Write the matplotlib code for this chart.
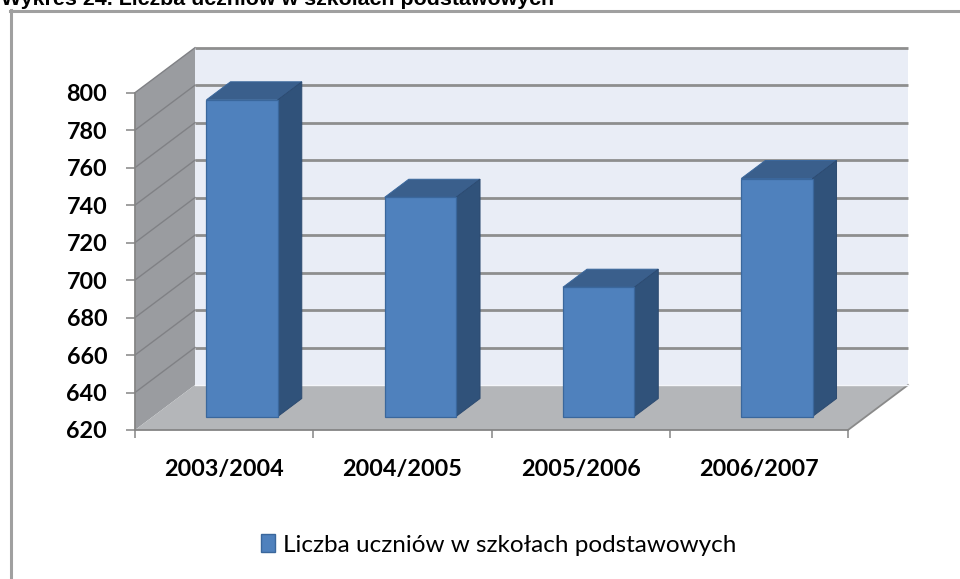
import matplotlib
matplotlib.use('Agg')
import matplotlib.pyplot as plt
from matplotlib.patches import Polygon, Patch
from matplotlib.lines import Line2D

# ---------------- data ----------------
categories = ['2003/2004', '2004/2005', '2005/2006', '2006/2007']
values = [789, 737, 689, 747]
series_name = 'Liczba uczniów w szkołach podstawowych'
title = 'Wykres 24. Liczba uczniów w szkołach podstawowych'
y_ticks = [620, 640, 660, 680, 700, 720, 740, 760, 780, 800]

# ---------------- layout ----------------
W, H = 960, 579
X0_PX, XUNIT_PX = 135.0, 178.25      # front-left axis pixel x, px per category
Y0_PX, VUNIT_PX = 430.0, 1.874       # pixel y (from top) of 620, px per value unit
DX = 60.0 / XUNIT_PX                 # depth offset in category units
DY = 45.0 / VUNIT_PX                 # depth offset in value units
VMIN, VMAX = y_ticks[0], y_ticks[-1]
N = len(categories)
BAR_W = 0.4
D_FRONT, D_BACK = 0.3, 0.7

C_FRONT = '#4F81BD'
C_TOP = '#3A5F8C'
C_SIDE = '#30527A'
C_EDGE = '#3A679C'

fig = plt.figure(figsize=(W / 100, H / 100), dpi=100)
fig.patch.set_facecolor('white')
ax = fig.add_axes([0, 0, 1, 1])
ax.set_facecolor('none')
ax.set_xlim(-X0_PX / XUNIT_PX, (W - X0_PX) / XUNIT_PX)
ax.set_ylim(VMIN - (H - Y0_PX) / VUNIT_PX, VMIN + Y0_PX / VUNIT_PX)


def P(x, v, d):
    return (x + d * DX, v + d * DY)


# back wall
ax.add_patch(Polygon([P(0, VMIN, 1), P(N, VMIN, 1), P(N, VMAX, 1), P(0, VMAX, 1)],
                     closed=True, fc='#E9EDF6', ec='none', zorder=1))
for v in y_ticks[1:]:
    a, b = P(0, v, 1), P(N, v, 1)
    ax.plot([a[0], b[0]], [a[1], b[1]], color='#8E8E8E', lw=2.0, zorder=2,
            solid_capstyle='butt')

# side wall
ax.add_patch(Polygon([P(0, VMIN, 0), P(0, VMAX, 0), P(0, VMAX, 1), P(0, VMIN, 1)],
                     closed=True, fc='#9A9CA0', ec='none', zorder=1))
for v in y_ticks[1:]:
    a, b = P(0, v, 0), P(0, v, 1)
    ax.plot([a[0], b[0]], [a[1], b[1]], color='#808185', lw=1.0, zorder=2)

# floor
ax.add_patch(Polygon([P(0, VMIN, 0), P(N, VMIN, 0), P(N, VMIN, 1), P(0, VMIN, 1)],
                     closed=True, fc='#B4B6B9', ec='none', zorder=3))
a, b = P(N, VMIN, 0), P(N, VMIN, 1)
ax.plot([a[0], b[0]], [a[1], b[1]], color='#8A8A8A', lw=1.3, zorder=3)
a, b = P(0, VMIN, 1), P(N, VMIN, 1)
ax.plot([a[0], b[0]], [a[1], b[1]], color='#F4F6FA', lw=1.0, zorder=3)

# bars
xs_front = [i + 0.5 + D_FRONT * DX for i in range(N)]
base_front = VMIN + D_FRONT * DY
heights = [v - VMIN for v in values]
ax.bar(xs_front, heights, width=BAR_W, bottom=base_front, color=C_FRONT,
       edgecolor=C_EDGE, linewidth=0.9, zorder=6)
depth = D_BACK - D_FRONT
for xc, v in zip(xs_front, values):
    xl, xr = xc - BAR_W / 2, xc + BAR_W / 2
    top = v + D_FRONT * DY
    bot = base_front
    ax.add_patch(Polygon([(xl, top), (xr, top), (xr + depth * DX, top + depth * DY),
                          (xl + depth * DX, top + depth * DY)], closed=True,
                         fc=C_TOP, ec=C_EDGE, lw=0.7, zorder=5))
    ax.add_patch(Polygon([(xr, bot), (xr + depth * DX, bot + depth * DY),
                          (xr + depth * DX, top + depth * DY), (xr, top)], closed=True,
                         fc=C_SIDE, ec='#2C4A70', lw=0.7, zorder=5))

# axes / spines
for s in ['top', 'right']:
    ax.spines[s].set_visible(False)
ax.spines['left'].set_position(('data', 0))
ax.spines['left'].set_bounds(VMIN, VMAX)
ax.spines['bottom'].set_position(('data', VMIN))
ax.spines['bottom'].set_bounds(0, N)
for s in ['left', 'bottom']:
    ax.spines[s].set_color('#858585')
    ax.spines[s].set_linewidth(1.3)
    ax.spines[s].set_zorder(4)

ax.set_yticks(y_ticks)
ax.set_yticklabels([str(t) for t in y_ticks])
ax.tick_params(axis='y', direction='out', length=6.5, width=1.1, color='#858585',
               pad=13.5, labelsize=16.8, labelcolor='black')
for lab in ax.get_yticklabels():
    lab.set_fontfamily('Lato')
    lab.set_fontweight('bold')

ax.set_xticks(list(range(N + 1)))
ax.set_xticklabels([''] * (N + 1))
ax.tick_params(axis='x', which='major', direction='out', length=5.5, width=1.1,
               color='#858585')
ax.set_xticks([i + 0.5 for i in range(N)], minor=True)
ax.set_xticklabels(categories, minor=True)
ax.tick_params(axis='x', which='minor', length=0, pad=21, labelsize=16.8,
               labelcolor='black')
for lab in ax.get_xticklabels(minor=True):
    lab.set_fontfamily('Lato')
    lab.set_fontweight('bold')

# legend
handles = [Patch(facecolor=C_FRONT, edgecolor='#3A679C', label=series_name)]
leg = fig.legend(handles=handles, loc='center', bbox_to_anchor=(498.5 / W, 1 - 545 / H),
                 frameon=False, handlelength=0.6, handleheight=0.7,
                 handletextpad=0.3, prop={'family': 'Lato', 'size': 17.5})

# chart frame (partly outside the image)
fig.add_artist(Line2D([11 / W, 11 / W], [0, 1 - 10 / H], transform=fig.transFigure,
                      color='#A0A0A0', lw=2.2))
fig.add_artist(Line2D([10 / W, 1.0], [1 - 11 / H, 1 - 11 / H], transform=fig.transFigure,
                      color='#A0A0A0', lw=2.2))

# title (cut off at top)
fig.text(1 / W, 1 - 5.3 / H, title, fontsize=15.4, fontweight='bold',
         family='Liberation Sans', ha='left', va='baseline')

fig.savefig('out.png', dpi=100)
